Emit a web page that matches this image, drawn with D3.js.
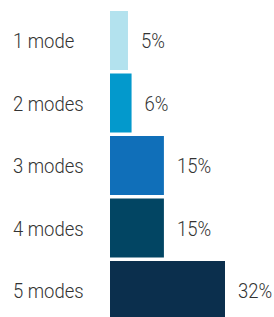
<!DOCTYPE html>
<html>
<head>
<meta charset="utf-8">
<script src="https://cdn.jsdelivr.net/npm/d3@7"></script>
<style>
  body { margin: 0; background: #fff; }
  svg { display: block; }
</style>
</head>
<body>
<div id="chart"></div>
<script>
// data
var categories = ["1 mode", "2 modes", "3 modes", "4 modes", "5 modes"];
var values = [5, 6, 15, 15, 32];
var colours = ["#b3e2ee", "#0399cc", "#106fb9", "#024563", "#0b2f4d"];

var width = 274, height = 317;
var font = "Roboto, sans-serif";
var squeeze = 0.88; // reference uses a condensed face

var xScale = d3.scaleLinear()
	.domain([0, 32])
	.range([110, 225]);

var yScale = d3.scaleBand()
	.domain(categories)
	.range([11, 320])
	.paddingInner(0.056);

var svg = d3.select("#chart")
	.append("svg")
	.attr("width", width)
	.attr("height", height);

svg.selectAll(".bar")
	.data(values)
	.enter()
	.append("rect")
	.attr("class", "bar")
	.attr("x", xScale(0))
	.attr("y", function(d, i) { return yScale(categories[i]); })
	.attr("width", function(d) { return xScale(d) - xScale(0); })
	.attr("height", yScale.bandwidth())
	.attr("fill", function(d, i) { return colours[i]; });

// category labels
svg.selectAll(".cat")
	.data(categories)
	.enter()
	.append("text")
	.attr("class", "cat")
	.attr("transform", function(d) {
		return "translate(13," + (yScale(d) + yScale.bandwidth() / 2) + ") scale(" + squeeze + ",1)";
	})
	.attr("dy", "0.36em")
	.attr("font-family", font)
	.attr("font-weight", 300)
	.attr("font-size", "21px")
	.attr("fill", "#333")
	.text(function(d) { return d; });

// value labels
svg.selectAll(".val")
	.data(values)
	.enter()
	.append("text")
	.attr("class", "val")
	.attr("transform", function(d, i) {
		return "translate(" + (xScale(d) + 13) + "," + (yScale(categories[i]) + yScale.bandwidth() / 2) + ") scale(" + squeeze + ",1)";
	})
	.attr("dy", "0.36em")
	.attr("font-family", font)
	.attr("font-weight", 300)
	.attr("font-size", "21px")
	.attr("fill", "#333")
	.text(function(d) { return d + "%"; });
</script>
</body>
</html>
